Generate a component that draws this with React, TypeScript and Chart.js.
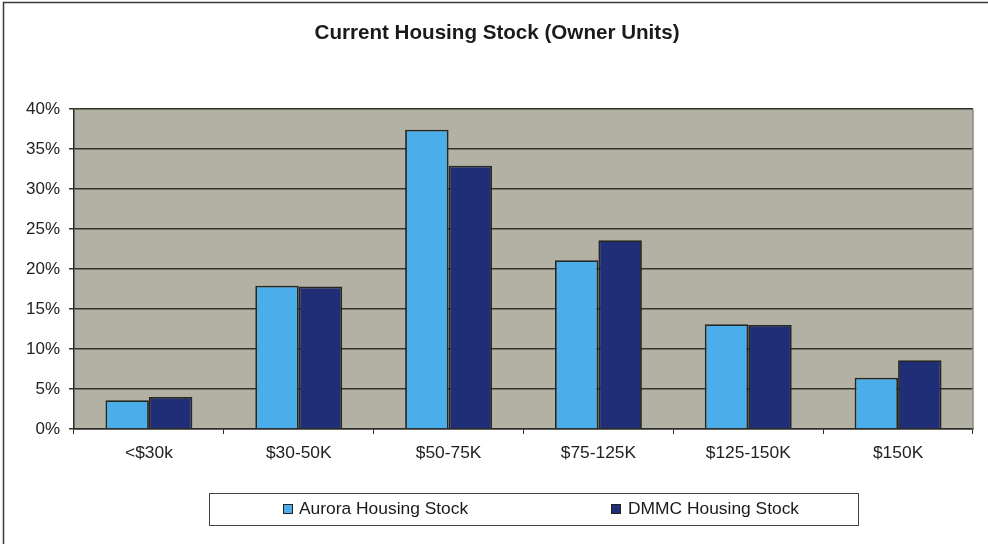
import React, { useEffect, useRef } from "react";
import { Chart, registerables } from "chart.js";

Chart.register(...registerables);

const TITLE = "Current Housing Stock (Owner Units)";
const categories = ["<$30k", "$30-50K", "$50-75K", "$75-125K", "$125-150K", "$150K"];
const auroraValues = [3.6, 17.9, 37.4, 21.1, 13.1, 6.4];
const dmmcValues = [4.0, 17.8, 32.9, 23.6, 13.0, 8.6];
const seriesLabels = ["Aurora Housing Stock", "DMMC Housing Stock"];
const seriesColors = ["#4BAEEB", "#1F2E76"];
const yTicks = [0, 5, 10, 15, 20, 25, 30, 35, 40];

const FONT = "'Liberation Sans', Arial, sans-serif";

const decorPlugin = {
  id: "decor",
  beforeDraw(chart: any) {
    const { ctx, chartArea } = chart;
    ctx.save();
    ctx.fillStyle = "#ffffff";
    ctx.fillRect(0, 0, chart.width, chart.height);
    ctx.fillStyle = "#B3B1A3";
    ctx.fillRect(chartArea.left, chartArea.top, chartArea.right - chartArea.left, chartArea.bottom - chartArea.top);
    ctx.restore();
  },
  afterDraw(chart: any) {
    const { ctx, chartArea } = chart;
    ctx.save();
    // plot right border
    ctx.strokeStyle = "#8C8A80";
    ctx.lineWidth = 1.5;
    ctx.beginPath();
    ctx.moveTo(chartArea.right, chartArea.top);
    ctx.lineTo(chartArea.right, chartArea.bottom);
    ctx.stroke();
    // outer border (left & top)
    ctx.strokeStyle = "#3a3a3a";
    ctx.lineWidth = 1.5;
    ctx.beginPath();
    ctx.moveTo(3.5, chart.height + 5);
    ctx.lineTo(3.5, 2.5);
    ctx.lineTo(chart.width + 5, 2.5);
    ctx.stroke();
    // title
    ctx.fillStyle = "#1a1a1a";
    ctx.font = `bold 20.6px ${FONT}`;
    ctx.textAlign = "center";
    ctx.textBaseline = "middle";
    ctx.fillText(TITLE, 497, 33);
    // legend
    const bx = 209, by = 493, bw = 649, bh = 32;
    ctx.fillStyle = "#ffffff";
    ctx.fillRect(bx, by, bw, bh);
    ctx.strokeStyle = "#444444";
    ctx.lineWidth = 1;
    ctx.strokeRect(bx + 0.5, by + 0.5, bw, bh);
    const items = [
      { sx: 283, tx: 299 },
      { sx: 611, tx: 628 },
    ];
    ctx.font = `17.4px ${FONT}`;
    ctx.textAlign = "left";
    ctx.textBaseline = "middle";
    chart.data.datasets.forEach((ds: any, i: number) => {
      const it = items[i];
      ctx.fillStyle = ds.backgroundColor;
      ctx.fillRect(it.sx, 504, 9, 9);
      ctx.strokeStyle = "#222222";
      ctx.strokeRect(it.sx + 0.5, 504.5, 9, 9);
      ctx.fillStyle = "#1a1a1a";
      ctx.fillText(ds.label, it.tx, 509.5);
    });
    ctx.restore();
  },
};

export default function App() {
  const ref = useRef<HTMLCanvasElement | null>(null);
  useEffect(() => {
    document.body.style.margin = "0";
    if (!ref.current) return;
    const chart = new Chart(ref.current, {
      type: "bar",
      data: {
        labels: categories,
        datasets: [
          {
            label: seriesLabels[0],
            data: auroraValues,
            backgroundColor: seriesColors[0],
            borderColor: "#262622",
            borderWidth: 1.8,
            categoryPercentage: 0.58,
            barPercentage: 1,
          },
          {
            label: seriesLabels[1],
            data: dmmcValues,
            backgroundColor: seriesColors[1],
            borderColor: "#262622",
            borderWidth: 1.8,
            categoryPercentage: 0.58,
            barPercentage: 1,
          },
        ],
      },
      options: {
        responsive: false,
        animation: false,
        layout: { padding: { top: 109, right: 15, left: 0, bottom: 0 } },
        plugins: { legend: { display: false }, title: { display: false }, tooltip: { enabled: false } },
        scales: {
          x: {
            grid: { offset: true, drawOnChartArea: false, drawTicks: true, tickLength: 5, color: "#2b2b28", lineWidth: 1 },
            border: { color: "#2b2b28", width: 1.5 },
            ticks: { color: "#222222", font: { family: FONT, size: 17.4 }, padding: 9, maxRotation: 0 },
            afterFit(scale: any) {
              scale.height = 115;
            },
          },
          y: {
            min: 0,
            max: 40,
            afterBuildTicks(scale: any) {
              scale.ticks = yTicks.map((v) => ({ value: v }));
            },
            grid: { color: "#33332b", lineWidth: 1.5, tickLength: 5 },
            border: { color: "#2b2b28", width: 1.5 },
            ticks: {
              color: "#222222",
              font: { family: FONT, size: 17 },
              padding: 9,
              callback: (v: any) => `${v}%`,
            },
            afterFit(scale: any) {
              scale.width = 74;
            },
          },
        },
      },
      plugins: [decorPlugin],
    });
    return () => chart.destroy();
  }, []);
  return <canvas ref={ref} width={988} height={544} style={{ display: "block" }} />;
}
